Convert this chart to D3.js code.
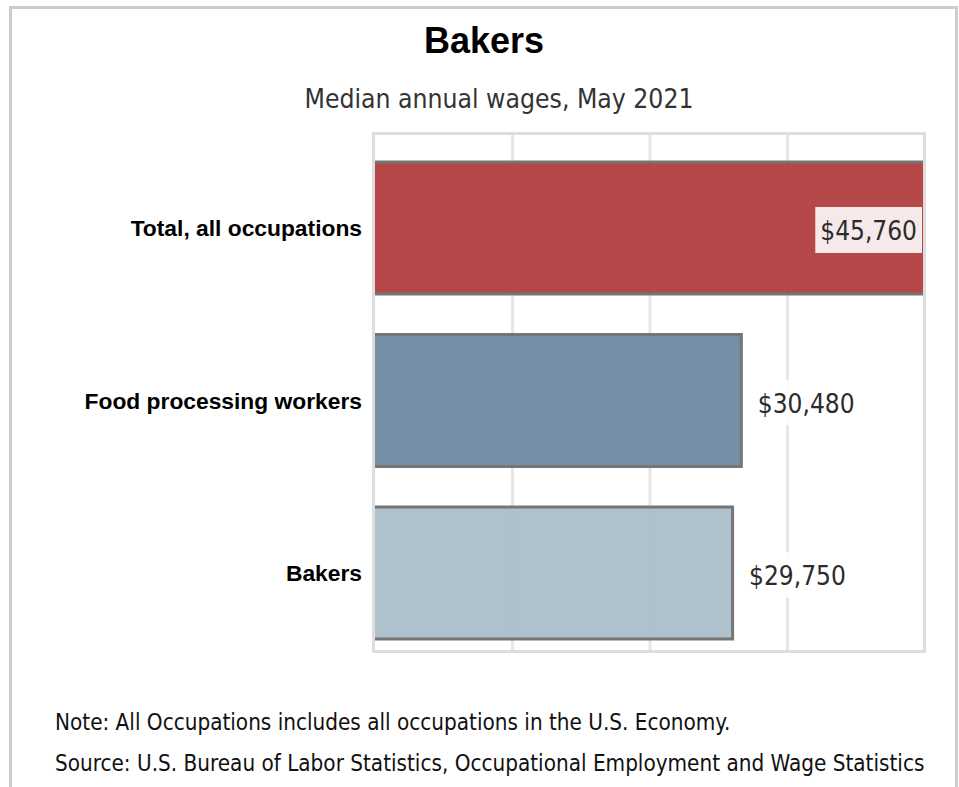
<!DOCTYPE html>
<html>
<head>
<meta charset="utf-8">
<script src="https://cdn.jsdelivr.net/npm/d3@7"></script>
<style>
  html, body { margin: 0; padding: 0; background: #fff; }
  .tahoma { font-family: 'DejaVu Sans Condensed', 'DejaVu Sans', sans-serif; font-stretch: condensed; }
  .arial { font-family: 'Liberation Sans', Arial, sans-serif; }
</style>
</head>
<body>
<div id="chart"></div>
<script>
const categories = ['Total, all occupations', 'Food processing workers', 'Bakers'];
const wages = [45760, 30480, 29750];
const barColors = ['#b13a3c', '#6a889f', '#a8bcc8'];
const gridFractions = [0.25, 0.5, 0.75];
const title = 'Bakers';
const subtitle = 'Median annual wages, May 2021';
const notes = [
  'Note: All Occupations includes all occupations in the U.S. Economy.',
  'Source: U.S. Bureau of Labor Statistics, Occupational Employment and Wage Statistics',
];

const W = 959, H = 787;
const plot = { left: 375, right: 925, top: 135, bottom: 652 };

const svg = d3.select('#chart').append('svg')
  .attr('width', W)
  .attr('height', H);

// outer box
svg.append('rect')
  .attr('x', 10.5).attr('y', 7.5)
  .attr('width', 946).attr('height', 820)
  .style('fill', 'none')
  .style('stroke', '#cccccc')
  .style('stroke-width', 3);

svg.append('clipPath')
  .attr('id', 'plot-clip')
  .append('rect')
  .attr('x', plot.left - 4)
  .attr('y', plot.top - 4)
  .attr('width', plot.right - plot.left + 2)
  .attr('height', plot.bottom - plot.top + 8);

const x = d3.scaleLinear()
  .domain([0, d3.max(wages)])
  .range([plot.left, plot.right]);
const y = d3.scaleBand()
  .domain(categories)
  .range([141.75, 659.25])
  .paddingInner(0.235)
  .paddingOuter(0.1175);

/* grid */
svg.append('g')
  .attr('class', 'grid')
  .selectAll('line')
  .data(gridFractions.map(f => x.domain()[1] * f))
  .enter().append('line')
  .attr('x1', d => x(d)).attr('x2', d => x(d))
  .attr('y1', plot.top).attr('y2', plot.bottom)
  .style('stroke', '#e6e6e6')
  .style('stroke-width', 3);

/* bars */
svg.append('g')
  .attr('class', 'bars')
  .attr('clip-path', 'url(#plot-clip)')
  .selectAll('rect')
  .data(wages)
  .enter().append('rect')
  .attr('x', x(0) - 1.5)
  .attr('y', (d, i) => y(categories[i]))
  .attr('width', d => x(d) - x(0) + 1.5)
  .attr('height', y.bandwidth())
  .style('fill', (d, i) => barColors[i])
  .style('fill-opacity', 0.93)
  .style('stroke', '#757575')
  .style('stroke-width', 3);

/* plot frame */
svg.append('rect')
  .attr('x', plot.left - 1.5)
  .attr('y', plot.top - 1.5)
  .attr('width', plot.right - plot.left + 1)
  .attr('height', plot.bottom - plot.top + 1)
  .style('fill', 'none')
  .style('stroke', '#dddddd')
  .style('stroke-width', 3);

/* value labels */
const fmt = d3.format('$,');
const labels = svg.append('g').attr('class', 'values');
wages.forEach((v, i) => {
  const inside = x(v) > plot.right - 120;
  const cy = y(categories[i]) + y.bandwidth() / 2 + 3;
  const g = labels.append('g');
  const box = g.append('rect');
  const t = g.append('text')
    .attr('class', 'tahoma')
    .attr('x', inside ? x(v) - 8 : x(v) + 16.5)
    .attr('y', cy)
    .attr('dy', '0.36em')
    .style('text-anchor', inside ? 'end' : 'start')
    .style('font-size', '26px')
    .style('fill', '#2b2b2b')
    .text(fmt(v));
  const bb = t.node().getBBox();
  box.attr('x', bb.x - 5)
    .attr('y', cy - 24)
    .attr('width', bb.width + 10)
    .attr('height', 46)
    .style('fill', '#fff')
    .style('fill-opacity', 0.88);
});

/* category labels */
svg.append('g')
  .attr('class', 'categories')
  .selectAll('text')
  .data(categories)
  .enter().append('text')
  .attr('class', 'arial')
  .attr('x', 362)
  .attr('y', d => y(d) + y.bandwidth() / 2)
  .attr('dy', '0.36em')
  .style('text-anchor', 'end')
  .style('font-size', '22.8px')
  .style('font-weight', 'bold')
  .style('fill', '#000')
  .text(d => d);

/* titles */
svg.append('text')
  .attr('class', 'arial')
  .attr('x', 484).attr('y', 53)
  .style('text-anchor', 'middle')
  .style('font-size', '36px')
  .style('font-weight', 'bold')
  .style('fill', '#000')
  .text(title);
svg.append('text')
  .attr('class', 'tahoma')
  .attr('x', 499).attr('y', 108)
  .style('text-anchor', 'middle')
  .style('font-size', '26.3px')
  .style('fill', '#333')
  .text(subtitle);

/* notes */
svg.append('g')
  .attr('class', 'notes')
  .selectAll('text')
  .data(notes)
  .enter().append('text')
  .attr('class', 'tahoma')
  .attr('x', 55)
  .attr('y', (d, i) => 730 + i * 41)
  .style('font-size', '22.3px')
  .style('fill', '#111')
  .text(d => d);
</script>
</body>
</html>
